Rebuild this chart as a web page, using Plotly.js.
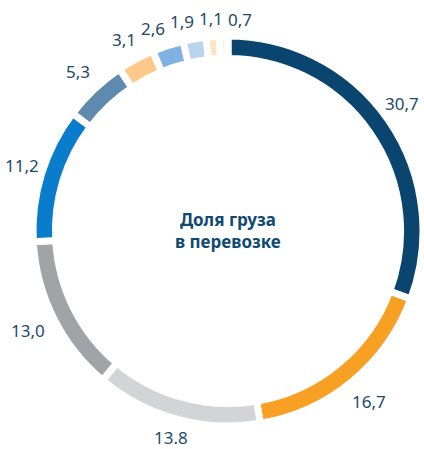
<!DOCTYPE html>
<html>
<head>
<meta charset="utf-8">
<script src="https://cdn.plot.ly/plotly-3.0.1.min.js"></script>
<style>html,body{margin:0;padding:0;background:#fff;}#chart{width:424px;height:449px;}</style>
</head>
<body>
<div id="chart"></div>
<script>
const categories = ["s1","s2","s3","s4","s5","s6","s7","s8","s9","s10","s11"];
const values = [30.7, 16.7, 13.8, 13.0, 11.2, 5.3, 3.1, 2.6, 1.9, 1.1, 0.7];
const valueLabels = ["30,7", "16,7", "13.8", "13,0", "11,2", "5,3", "3,1", "2,6", "1,9", "1,1", "0,7"];
const colors = ["#0a4570", "#f7a024", "#d3d4d6", "#a2a3a7", "#0a7ccc", "#5e8aad", "#fdc98a", "#7fb2e3", "#b9d2ee", "#fde3c2", "#eeeeee"];
const centerText = "Доля груза<br>в перевозке";

const W = 424, H = 449;
const CX = 228, CY = 231, R = 195;
const FONT = "'Noto Sans', sans-serif";

const trace = {
  type: "pie",
  labels: categories,
  values: values,
  textinfo: "none",
  sort: false,
  direction: "clockwise",
  rotation: 0,
  hole: 0.885,
  domain: {x: [(CX - R) / W, (CX + R) / W], y: [(H - CY - R) / H, (H - CY + R) / H]},
  marker: {colors: colors, line: {color: "#ffffff", width: 7}},
  showlegend: false,
  hoverinfo: "none"
};

// value labels at each slice's mid-angle, just outside the ring
const total = values.reduce((a, b) => a + b, 0);
let cum = 0;
const pos = values.map((v, i) => {
  const mid = (cum + v / 2) / total * 2 * Math.PI;
  cum += v;
  const s = Math.sin(mid), c = Math.cos(mid);
  const halfW = 4.4 * valueLabels[i].length;
  const d = 204 + halfW * Math.abs(s) + 8 * Math.abs(c);
  return {x: CX + d * s, y: CY - d * c, d: d, hw: halfW};
});
// spread the crowded labels at the top so they do not overlap
const topIdx = pos.map((p, i) => i).filter(i => pos[i].y < 70).sort((a, b) => pos[a].x - pos[b].x);
const MIN_GAP = 29;
for (let it = 0; it < 100; it++) {
  for (let k = 0; k < topIdx.length - 1; k++) {
    const a = pos[topIdx[k]], b = pos[topIdx[k + 1]];
    const gap = b.x - a.x;
    if (gap < MIN_GAP) { const m = (MIN_GAP - gap) / 2; a.x -= m; b.x += m; }
  }
}
topIdx.forEach(i => {
  const p = pos[i];
  const dx = p.x - CX;
  p.y = CY - Math.sqrt(Math.max(p.d * p.d - dx * dx, 0));
});
// keep every label inside the picture
pos.forEach(p => {
  p.x = Math.min(Math.max(p.x, p.hw + 4), W - p.hw - 4);
  p.y = Math.min(Math.max(p.y, 12), H - 12);
});

const labelAnns = pos.map((p, i) => ({
  text: valueLabels[i], x: p.x / W, y: (H - p.y) / H,
  xref: "paper", yref: "paper",
  xanchor: "center", yanchor: "middle", showarrow: false,
  font: {family: FONT, size: 17, color: "#1c4a6b"}
}));

const layout = {
  width: W, height: H,
  margin: {l: 0, r: 0, t: 0, b: 0},
  paper_bgcolor: "#ffffff",
  showlegend: false,
  annotations: labelAnns.concat([{
    text: centerText, x: CX / W, y: (H - CY) / H, xref: "paper", yref: "paper",
    showarrow: false, align: "center", xanchor: "center", yanchor: "middle",
    font: {family: FONT, size: 17, color: "#0f4a72", weight: "bold"}
  }])
};

Plotly.newPlot("chart", [trace], layout, {displayModeBar: false, staticPlot: true});
</script>
</body>
</html>
